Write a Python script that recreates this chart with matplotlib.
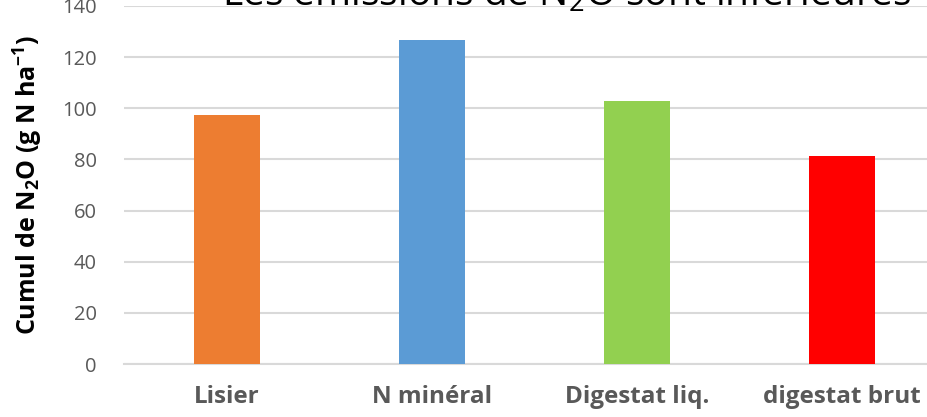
import matplotlib.pyplot as plt

# N2O cumulative emissions per treatment
categories = ['Lisier', 'N minéral', 'Digestat liq.', 'digestat brut']
n2o_cumul = [97.3, 126.8, 103.0, 81.5]
bar_colors = ['#ED7D31', '#5B9BD5', '#92D050', '#FF0000']
y_ticks = [0, 20, 40, 60, 80, 100, 120, 140]

plt.rcParams['font.family'] = ['Open Sans', 'DejaVu Sans']
plt.rcParams['mathtext.fontset'] = 'custom'
plt.rcParams['mathtext.rm'] = 'Open Sans'
plt.rcParams['mathtext.bf'] = 'Open Sans:bold'

fig = plt.figure(figsize=(9.28, 4.17), dpi=100)
ax = fig.add_axes([0.134, 0.127, 0.884, 0.859])

x = range(len(categories))
ax.bar(x, n2o_cumul, width=0.32, color=bar_colors, zorder=3)

ax.set_xlim(-0.5, len(categories) - 0.5)
ax.set_ylim(0, 140)
ax.set_yticks(y_ticks)
ax.set_xticks(list(x))
ax.set_xticklabels(categories, fontsize=17.5, fontweight='bold', color='#595959')
ax.tick_params(axis='y', labelsize=14.5, labelcolor='#595959', length=0, pad=20)
ax.tick_params(axis='x', length=0, pad=15)

ax.grid(axis='y', color='#D9D9D9', linewidth=1.5, zorder=0)
for side in ['top', 'right', 'left']:
    ax.spines[side].set_visible(False)
ax.spines['bottom'].set_color('#D9D9D9')
ax.spines['bottom'].set_linewidth(1.5)

ax.set_ylabel('Cumul de N$_\\mathbf{2}$O (g N ha$^\\mathbf{-1}$)', fontsize=18,
              fontweight='bold', color='black', labelpad=12)

fig.text(0.239, 0.986, 'Les émissions de N$_2$O sont inférieures', fontsize=28,
         color='black', ha='left', va='baseline')

fig.savefig('out.png', dpi=100)
